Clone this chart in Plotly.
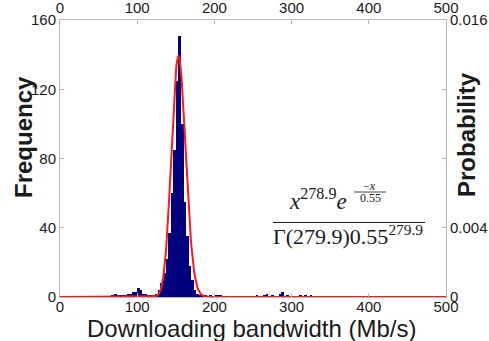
import math
import plotly.graph_objects as go

# Histogram of measured download bandwidth (bins of 10/3 Mb/s)
BIN_WIDTH = 10.0 / 3.0
bin_index = [20, 21, 22, 23, 24, 25, 26, 27, 28, 29, 30, 31, 32, 33, 34, 35, 36,
             37, 38, 39, 40, 41, 42, 43, 44, 45, 46, 47, 48, 49, 50, 51, 52, 53,
             54, 55, 56, 58, 60, 61, 62, 76, 79, 80, 82, 85, 86, 88, 93, 95, 97]
frequency = [1, 2, 1, 1, 1, 1, 2, 2, 3, 3, 5, 4, 2, 2, 1, 1, 1,
             2, 4, 8, 14, 22, 37, 60, 85, 125, 151, 100, 55, 35, 18, 10, 4, 2,
             1, 1, 1, 1, 1, 1, 1, 1, 1, 2, 1, 2, 3, 1, 1, 1, 1]

# Fitted gamma distribution: shape 279.9, scale 0.55
GAMMA_SHAPE = 279.9
GAMMA_SCALE = 0.55
COUNTS_PER_DENSITY = 3207.0

x_ticks = [0, 100, 200, 300, 400, 500]
freq_ticks = [0, 40, 80, 120, 160]
prob_ticks = [0, 0.004, 0.008, 0.012, 0.016]
prob_tick_text = ["0", "0.004", "", "", "0.016"]

bin_centers = [(k + 0.5) * BIN_WIDTH for k in bin_index]


def gamma_pdf(x):
    if x <= 0:
        return 0.0
    log_p = ((GAMMA_SHAPE - 1) * math.log(x) - x / GAMMA_SCALE
             - math.lgamma(GAMMA_SHAPE) - GAMMA_SHAPE * math.log(GAMMA_SCALE))
    return math.exp(log_p)


fit_x = [i * 0.5 for i in range(0, 1001)]
fit_y = [COUNTS_PER_DENSITY * gamma_pdf(v) for v in fit_x]

W, H = 489, 341
L, R, T, B = 60, 446, 20, 297
AX_COLOR = "#b8b8b8"
TXT = "#1a1a1a"
SANS = "Liberation Sans, Arial, sans-serif"
SERIF = "Liberation Serif, Times New Roman, serif"

fig = go.Figure()
fig.add_trace(go.Bar(x=bin_centers, y=frequency, width=BIN_WIDTH,
                     marker=dict(color="#00007f", line=dict(width=0)),
                     showlegend=False, hoverinfo="skip"))
fig.add_trace(go.Scatter(x=fit_x, y=fit_y, mode="lines",
                         line=dict(color="#ff1a1a", width=2),
                         showlegend=False, hoverinfo="skip"))
# empty trace that carries the top and right axes
fig.add_trace(go.Scatter(x=[None], y=[None], xaxis="x2", yaxis="y2",
                         showlegend=False, hoverinfo="skip"))

tick_font = dict(family=SANS, size=15, color=TXT)
common_x = dict(range=[0, 500], tickvals=x_ticks, ticks="inside", ticklen=4,
                tickcolor=AX_COLOR, showline=True, linecolor=AX_COLOR,
                linewidth=1, showgrid=False, zeroline=False,
                tickfont=tick_font, domain=[L / W, R / W])
common_y = dict(ticks="inside", ticklen=4, tickcolor=AX_COLOR, showline=True,
                linecolor=AX_COLOR, linewidth=1, showgrid=False, zeroline=False,
                tickfont=tick_font, domain=[(H - B) / H, (H - T) / H])

fig.update_layout(
    width=W, height=H,
    margin=dict(l=0, r=0, t=0, b=0, autoexpand=False),
    paper_bgcolor="white", plot_bgcolor="white",
    bargap=0, barmode="overlay",
    xaxis=dict(**common_x, side="bottom", anchor="y", ticklabelstandoff=-4),
    xaxis2=dict(**common_x, side="top", overlaying="x", anchor="y"),
    yaxis=dict(**common_y, range=[0, 160], tickvals=freq_ticks, side="left",
               anchor="x"),
    yaxis2=dict(**common_y, range=[0, 0.016], tickvals=prob_ticks,
                ticktext=prob_tick_text, side="right", overlaying="y",
                anchor="x"),
)


def px_to_x(px):
    return (px - L) / (R - L) * 500


def py_to_y(py):
    return (B - py) / (B - T) * 160


def label(text, x, y, size, family, xref="paper", yref="paper", angle=0):
    return dict(text=text, x=x, y=y, xref=xref, yref=yref, showarrow=False,
                xanchor="center", yanchor="middle", textangle=angle,
                font=dict(family=family, size=size, color=TXT))


ann = [
    # axis titles
    label("Downloading bandwidth (Mb/s)", 252 / W, 1 - 328 / H, 24, SANS),
    label("<b>Frequency</b>", 23 / W, 1 - 137 / H, 24, SANS, angle=-90),
    label("<b>Probability</b>", 466 / W, 1 - 135 / H, 24, SANS, angle=-90),
    # fitted density formula
    label("<i>x</i><sup>278.9</sup><i>e</i>", px_to_x(318), py_to_y(200), 23,
          SERIF, "x", "y"),
    label("\u2212<i>x</i>", px_to_x(369), py_to_y(186), 12, SERIF, "x", "y"),
    label("0.55", px_to_x(370), py_to_y(198), 12, SERIF, "x", "y"),
    label("\u0393(279.9)0.55<sup>279.9</sup>", px_to_x(348), py_to_y(235), 22,
          SERIF, "x", "y"),
]
fig.update_layout(annotations=ann)

fig.update_layout(shapes=[
    dict(type="line", xref="x", yref="y", x0=px_to_x(273), x1=px_to_x(425),
         y0=py_to_y(222.5), y1=py_to_y(222.5), line=dict(color=TXT, width=1)),
    dict(type="line", xref="x", yref="y", x0=px_to_x(354), x1=px_to_x(386),
         y0=py_to_y(192), y1=py_to_y(192), line=dict(color=TXT, width=0.8)),
])

fig.write_html("out.html")
